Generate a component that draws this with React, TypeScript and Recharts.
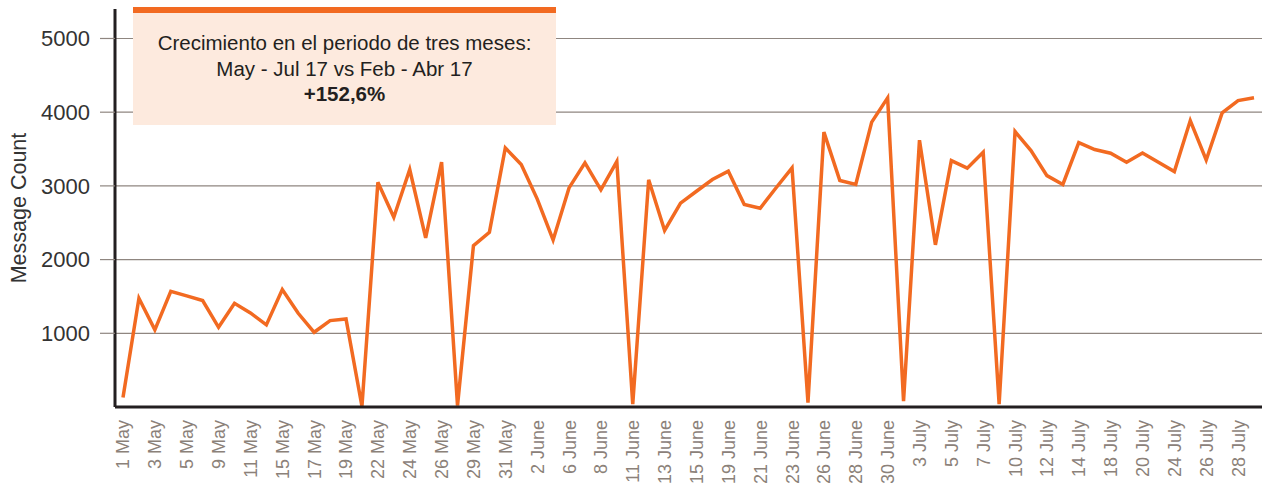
import React from "react";
import { LineChart, Line, XAxis, YAxis, ReferenceLine } from "recharts";

const days = [
  "1 May", "2 May", "3 May", "4 May", "5 May", "8 May", "9 May", "10 May",
  "11 May", "12 May", "15 May", "16 May", "17 May", "18 May", "19 May", "20 May",
  "22 May", "23 May", "24 May", "25 May", "26 May", "27 May", "29 May", "30 May",
  "31 May", "1 June", "2 June", "5 June", "6 June", "7 June", "8 June", "9 June",
  "11 June", "12 June", "13 June", "14 June", "15 June", "16 June", "19 June", "20 June",
  "21 June", "22 June", "23 June", "24 June", "26 June", "27 June", "28 June", "29 June",
  "30 June", "1 July", "3 July", "4 July", "5 July", "6 July", "7 July", "8 July",
  "10 July", "11 July", "12 July", "13 July", "14 July", "17 July", "18 July", "19 July",
  "20 July", "21 July", "24 July", "25 July", "26 July", "27 July", "28 July", "31 July",
];

const messages = [
  130, 1475, 1046, 1570, 1508, 1444, 1081, 1407,
  1277, 1114, 1593, 1272, 1014, 1172, 1195, 10,
  3049, 2574, 3222, 2294, 3321, 20, 2190, 2371,
  3516, 3289, 2824, 2267, 2973, 3312, 2946, 3330,
  40, 3082, 2395, 2765, 2927, 3086, 3199, 2747,
  2697, 2975, 3245, 60, 3729, 3073, 3019, 3865,
  4195, 80, 3620, 2200, 3343, 3240, 3457, 40,
  3737, 3480, 3140, 3019, 3587, 3493, 3443, 3322,
  3447, 3322, 3195, 3886, 3352, 3990, 4157, 4195,
];

const yTicks = [1000, 2000, 3000, 4000, 5000];

const data = days.map((d, i) => ({ day: d, count: messages[i] }));

const font = "'Liberation Sans', Arial, Helvetica, sans-serif";
const orange = "#f26a21";
const grid = "#8f8680";

function DayTick({ x, y, payload }: any) {
  return (
    <g transform={`translate(${x},${y})`}>
      <text
        transform="rotate(-90)"
        x={-13}
        y={0}
        dy="0.36em"
        textAnchor="end"
        fill="#8b8179"
        fontSize={18}
        fontFamily={font}
      >
        {payload.value}
      </text>
    </g>
  );
}

export default function App() {
  return (
    <div style={{ position: "absolute", left: 0, top: 0, width: 1266, height: 483, background: "#fff" }}>
      <LineChart
        width={1266}
        height={483}
        data={data}
        margin={{ top: 9, right: 4, left: 0, bottom: 0 }}
      >
        {yTicks.map((v) => (
          <ReferenceLine key={v} y={v} stroke={grid} strokeWidth={1.2} />
        ))}
        <XAxis
          dataKey="day"
          interval={1}
          height={76}
          padding={{ left: 8, right: 8 }}
          tickLine={false}
          tickSize={0}
          tickMargin={0}
          axisLine={{ stroke: "#231f20", strokeWidth: 3 }}
          tick={<DayTick />}
        />
        <YAxis
          width={115}
          domain={[0, 5400]}
          ticks={yTicks}
          tickSize={15}
          tickMargin={10}
          tickLine={{ stroke: grid, strokeWidth: 1.2 }}
          axisLine={{ stroke: "#231f20", strokeWidth: 3 }}
          tick={{ fill: "#333", fontSize: 22, fontFamily: font }}
        />
        <text
          x={19}
          y={208}
          transform="rotate(-90, 19, 208)"
          textAnchor="middle"
          dominantBaseline="central"
          fill="#333"
          fontSize={21.5}
          fontFamily={font}
        >
          Message Count
        </text>
        <Line
          type="linear"
          dataKey="count"
          stroke={orange}
          strokeWidth={3.5}
          dot={false}
          isAnimationActive={false}
        />
      </LineChart>
      <div
        style={{
          position: "absolute",
          left: 133,
          top: 7,
          width: 423,
          height: 112,
          background: "#fdeade",
          borderTop: `6px solid ${orange}`,
          boxSizing: "content-box",
          fontFamily: font,
          fontSize: 20.5,
          lineHeight: "25.5px",
          color: "#231f20",
          textAlign: "center",
        }}
      >
        <div style={{ paddingTop: 17 }}>
          <div>Crecimiento en el periodo de tres meses:</div>
          <div>May - Jul 17 vs Feb - Abr 17</div>
          <div style={{ fontWeight: "bold" }}>+152,6%</div>
        </div>
      </div>
    </div>
  );
}
